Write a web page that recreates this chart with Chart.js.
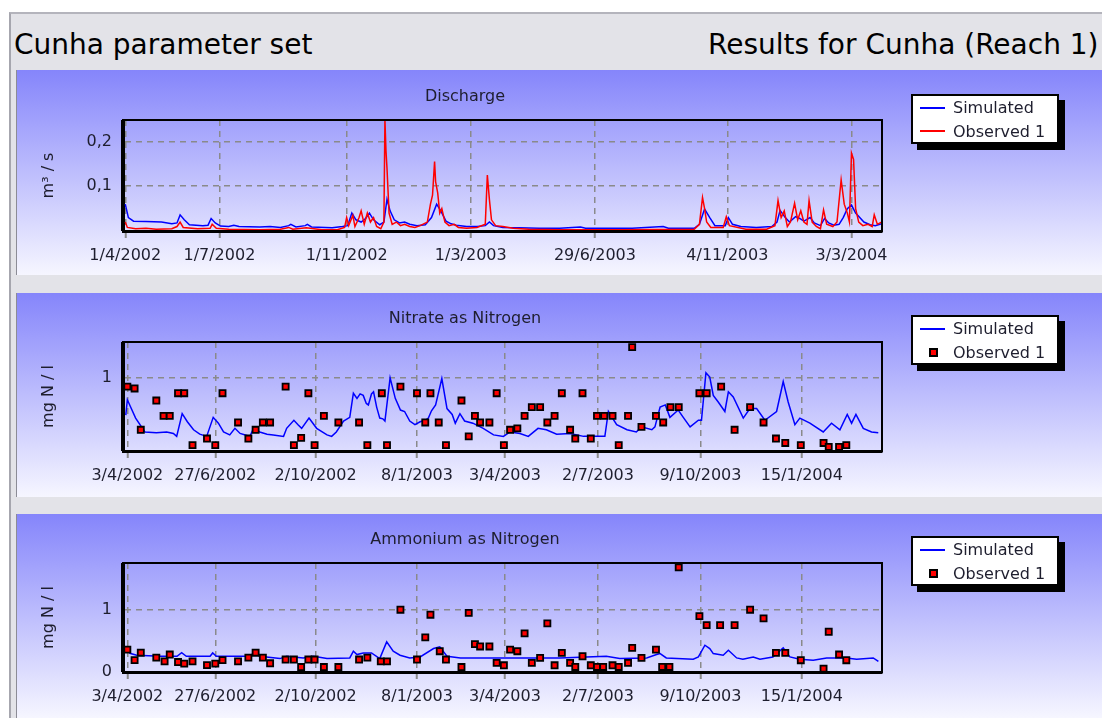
<!DOCTYPE html>
<html>
<head>
<meta charset="utf-8">
<script src="https://cdn.jsdelivr.net/npm/chart.js@4.4.1/dist/chart.umd.min.js"></script>
<style>
body { margin: 0; width: 1102px; height: 718px; overflow: hidden; background: #fff; font-family: "DejaVu Sans", sans-serif; }
#frame { position: absolute; left: 9px; top: 12px; right: 0; bottom: 0; background: #e3e3e8; border-left: 2px solid #a6a6ae; border-top: 2px solid #b4b4bc; }
.head { position: absolute; top: 28px; font-size: 28px; line-height: 34px; color: #000; white-space: nowrap; }
.panel { position: absolute; left: 16px; width: 1086px; background: linear-gradient(#8585fb, #f6f6ff); box-shadow: inset 1px 0 #8c8c96; }
.panel canvas { position: absolute; left: 0; top: 0; }
.ptitle { position: absolute; left: 449px; transform: translateX(-50%); font-size: 16px; line-height: 20px; color: #1e1e2e; white-space: nowrap; }
.legend { position: absolute; left: 895px; width: 148px; height: 50px; box-sizing: border-box; background: #fff; border: 2px solid #000; box-shadow: 6px 6px 0 #000; }
.legend span { position: absolute; }
.legend .txt { left: 40px; font-size: 16px; line-height: 20px; color: #1e1e2e; white-space: nowrap; }
.legend .ln { left: 7px; width: 25px; height: 2px; }
.legend .sq { left: 16px; width: 5px; height: 5px; background: #f00; border: 2px solid #000; }
</style>
</head>
<body>
<div id="frame"></div>
<div class="head" style="left:14px">Cunha parameter set</div>
<div class="head" style="left:708px">Results for Cunha (Reach 1)</div>

<div class="panel" style="top:70px;height:205px">
  <canvas id="c1" width="1086" height="205"></canvas>
  <div class="ptitle" style="top:16px">Discharge</div>
  <div class="legend" style="top:24px">
    <span class="ln" style="top:11px;background:#00f"></span><span class="txt" style="top:2px">Simulated</span>
    <span class="ln" style="top:34px;background:#f00"></span><span class="txt" style="top:26px">Observed 1</span>
  </div>
</div>
<div class="panel" style="top:293px;height:204px">
  <canvas id="c2" width="1086" height="204"></canvas>
  <div class="ptitle" style="top:15px">Nitrate as Nitrogen</div>
  <div class="legend" style="top:22px">
    <span class="ln" style="top:11px;background:#00f"></span><span class="txt" style="top:2px">Simulated</span>
    <span class="sq" style="top:31px"></span><span class="txt" style="top:26px">Observed 1</span>
  </div>
</div>
<div class="panel" style="top:514px;height:204px">
  <canvas id="c3" width="1086" height="204"></canvas>
  <div class="ptitle" style="top:15px">Ammonium as Nitrogen</div>
  <div class="legend" style="top:22px">
    <span class="ln" style="top:11px;background:#00f"></span><span class="txt" style="top:2px">Simulated</span>
    <span class="sq" style="top:31px"></span><span class="txt" style="top:26px">Observed 1</span>
  </div>
</div>

<script>
// x values are days counted from 1/4/2002
const dayMin = -2.2, dayMax = 731.5;

const qTickDays = [0, 91, 214, 334, 454, 582, 702];
const qTickLabels = ['1/4/2002', '1/7/2002', '1/11/2002', '1/3/2003', '29/6/2003', '4/11/2003', '3/3/2004'];
const wqTickDays = [2, 87, 184, 282, 367, 457, 556, 654];
const wqTickLabels = ['3/4/2002', '27/6/2002', '2/10/2002', '8/1/2003', '3/4/2003', '2/7/2003', '9/10/2003', '15/1/2004'];

// discharge m3/s  [day, value]
const qSimulated = [[0,0.06],[3,0.03],[8,0.022],[20,0.021],[35,0.02],[45,0.016],[50,0.018],[53,0.036],[57,0.025],[62,0.014],[75,0.012],[80,0.013],[83,0.028],[87,0.018],[92,0.011],[100,0.01],[105,0.013],[110,0.01],[130,0.009],[140,0.01],[150,0.008],[158,0.012],[160,0.015],[165,0.009],[174,0.012],[176,0.015],[180,0.009],[200,0.007],[210,0.01],[215,0.012],[219,0.04],[223,0.025],[228,0.02],[232,0.027],[236,0.04],[240,0.025],[246,0.014],[250,0.02],[253,0.071],[256,0.045],[260,0.025],[265,0.018],[270,0.02],[275,0.015],[282,0.012],[290,0.014],[296,0.03],[301,0.06],[305,0.045],[310,0.022],[315,0.016],[320,0.013],[330,0.01],[340,0.01],[348,0.012],[352,0.02],[356,0.012],[365,0.008],[380,0.007],[400,0.006],[420,0.006],[440,0.009],[445,0.006],[460,0.006],[490,0.006],[520,0.01],[525,0.006],[550,0.006],[555,0.015],[560,0.049],[565,0.03],[570,0.012],[580,0.012],[583,0.03],[587,0.015],[595,0.01],[610,0.008],[625,0.01],[630,0.02],[633,0.046],[638,0.03],[642,0.02],[648,0.032],[652,0.028],[656,0.022],[662,0.03],[666,0.018],[672,0.012],[676,0.028],[680,0.018],[685,0.013],[690,0.015],[694,0.03],[698,0.05],[702,0.058],[706,0.04],[710,0.03],[714,0.02],[720,0.014],[725,0.012],[731,0.016]];
const qObserved = [[0,0.02],[2,0.008],[10,0.005],[20,0.006],[30,0.004],[45,0.005],[50,0.01],[53,0.02],[56,0.008],[70,0.005],[82,0.006],[84,0.015],[88,0.006],[100,0.004],[130,0.003],[150,0.004],[158,0.008],[162,0.004],[175,0.007],[190,0.003],[205,0.003],[212,0.008],[214,0.03],[216,0.012],[220,0.035],[222,0.01],[226,0.03],[228,0.045],[231,0.015],[234,0.04],[237,0.02],[240,0.03],[243,0.01],[247,0.005],[250,0.02],[251,0.248],[252,0.18],[253,0.14],[255,0.04],[258,0.015],[262,0.02],[266,0.012],[270,0.015],[275,0.01],[280,0.008],[285,0.012],[292,0.02],[295,0.06],[297,0.08],[299,0.155],[300,0.11],[302,0.085],[304,0.04],[306,0.05],[309,0.02],[313,0.012],[318,0.015],[322,0.008],[330,0.006],[340,0.008],[348,0.015],[350,0.125],[352,0.07],[354,0.025],[358,0.012],[365,0.01],[375,0.006],[390,0.004],[420,0.003],[480,0.003],[550,0.004],[555,0.015],[558,0.075],[560,0.05],[562,0.02],[566,0.008],[578,0.008],[581,0.032],[584,0.012],[600,0.004],[620,0.004],[628,0.012],[631,0.068],[634,0.03],[637,0.045],[640,0.01],[643,0.02],[647,0.062],[650,0.025],[653,0.045],[656,0.02],[659,0.015],[661,0.068],[664,0.02],[668,0.01],[672,0.005],[675,0.047],[678,0.015],[684,0.01],[688,0.02],[692,0.114],[695,0.06],[698,0.04],[700,0.02],[702,0.174],[704,0.16],[706,0.05],[709,0.02],[713,0.012],[718,0.015],[722,0.01],[724,0.036],[727,0.015],[731,0.02]];

// nitrate mg N/l
const nSimulated = [[0.5,0.49],[2,0.7],[10,0.45],[19,0.26],[30,0.25],[40,0.26],[46.5,0.24],[49.7,0.2],[55,0.51],[60,0.4],[66,0.29],[72,0.23],[78.7,0.2],[85,0.46],[90,0.38],[95,0.26],[101,0.22],[106,0.31],[111,0.24],[116,0.22],[120.5,0.2],[124,0.31],[130,0.26],[137,0.23],[143,0.22],[153,0.2],[156,0.31],[163,0.42],[167,0.36],[170.5,0.31],[177.6,0.45],[185,0.31],[195,0.22],[199.5,0.2],[204,0.26],[211,0.41],[217,0.46],[220.5,0.79],[224,0.72],[227,0.78],[230,0.76],[233,0.65],[235,0.63],[238,0.78],[240,0.81],[243,0.6],[246,0.45],[249,0.44],[251,0.41],[256,1.0],[261,0.72],[266,0.56],[270,0.54],[275,0.41],[280,0.36],[285,0.4],[290,0.42],[293,0.45],[296,0.55],[300,0.63],[306,0.99],[311,0.58],[316,0.5],[319,0.38],[323.5,0.51],[328,0.41],[336,0.38],[346,0.31],[356,0.22],[365.5,0.2],[372,0.26],[381.5,0.24],[389.6,0.2],[399,0.31],[407,0.29],[417,0.23],[430,0.24],[443,0.2],[463.6,0.2],[467,0.54],[475,0.36],[485,0.29],[494,0.26],[499,0.33],[509,0.29],[512,0.33],[517,0.6],[522,0.63],[526.5,0.46],[534.5,0.56],[539.4,0.46],[546,0.33],[554,0.42],[557,0.42],[561.3,1.07],[565,1.01],[568.4,0.76],[573.2,0.67],[579.6,0.54],[583,0.81],[587.7,0.74],[597.4,0.45],[603.8,0.58],[610.3,0.58],[618.3,0.42],[629.6,0.54],[636,0.95],[640.8,0.67],[647.3,0.36],[652.1,0.45],[661.8,0.38],[674.7,0.26],[682.7,0.38],[690.8,0.29],[697.9,0.5],[702.1,0.38],[706.3,0.5],[713.4,0.31],[721.4,0.26],[727.9,0.25]];
const nObserved = [[2,0.88],[9,0.855],[15,0.29],[30,0.69],[37,0.48],[43,0.48],[51,0.79],[57,0.79],[65,0.08],[79,0.17],[87,0.08],[94,0.79],[109,0.39],[119,0.17],[126,0.29],[133,0.39],[140,0.39],[155,0.88],[163,0.08],[170,0.18],[177,0.79],[183,0.08],[192,0.48],[206,0.39],[226,0.39],[234,0.08],[248,0.79],[253,0.08],[266,0.88],[282,0.79],[290,0.39],[295,0.79],[303,0.39],[310,0.08],[325,0.69],[332,0.2],[338,0.48],[343,0.39],[352,0.39],[359,0.79],[366,0.08],[372,0.29],[379,0.31],[386,0.48],[393,0.6],[401,0.6],[408,0.39],[415,0.48],[422,0.79],[430,0.29],[435,0.17],[442,0.79],[450,0.17],[456,0.48],[463,0.48],[471,0.48],[477,0.08],[486,0.48],[490,1.42],[499,0.33],[513,0.48],[520,0.39],[527,0.6],[535,0.6],[555,0.79],[562,0.79],[576,0.88],[589,0.29],[604,0.6],[617,0.39],[629,0.17],[638,0.11],[653,0.08],[675,0.11],[680,0.055],[690,0.055],[697,0.08]];

// ammonium mg N/l
const aSimulated = [[0.6,0.4],[4.5,0.3],[11,0.27],[34,0.253],[50,0.253],[54.5,0.31],[59,0.253],[82,0.253],[84.5,0.306],[88,0.253],[120.5,0.253],[124,0.306],[130,0.253],[149.5,0.215],[156,0.253],[172,0.226],[182,0.253],[195,0.215],[217,0.226],[220.5,0.334],[224,0.28],[230,0.306],[238,0.306],[246,0.215],[252.7,0.484],[259,0.334],[265.6,0.269],[275,0.226],[285,0.242],[298,0.377],[304,0.403],[311,0.253],[324,0.226],[343,0.226],[356,0.226],[388,0.226],[420,0.226],[465,0.253],[478,0.215],[504,0.226],[513.6,0.28],[517,0.296],[523,0.226],[549,0.205],[554,0.242],[560.3,0.43],[565,0.377],[568.4,0.296],[578,0.269],[583,0.35],[591,0.226],[597,0.205],[607,0.242],[613.5,0.205],[626,0.242],[636,0.388],[642.5,0.242],[652,0.205],[665,0.189],[678,0.226],[697,0.226],[707,0.205],[723,0.226],[728,0.17]];
const aObserved = [[2,0.36],[9,0.19],[15,0.31],[30,0.23],[38,0.17],[43,0.28],[51,0.16],[57,0.135],[65,0.17],[79,0.11],[87,0.135],[94,0.19],[109,0.17],[119,0.23],[126,0.31],[133,0.23],[140,0.14],[155,0.2],[163,0.2],[170,0.08],[177,0.2],[183,0.2],[192,0.08],[206,0.08],[226,0.2],[234,0.23],[247,0.17],[253,0.17],[266,1.0],[282,0.2],[290,0.555],[295,0.92],[304,0.334],[310,0.2],[325,0.08],[332,0.95],[338,0.447],[343,0.41],[352,0.41],[359,0.146],[366,0.108],[372,0.36],[379,0.334],[386,0.62],[393,0.146],[401,0.226],[408,0.78],[415,0.108],[422,0.307],[430,0.146],[435,0.081],[442,0.253],[450,0.108],[456,0.081],[462,0.081],[471,0.108],[477,0.081],[486,0.146],[490,0.388],[499,0.226],[513,0.36],[519,0.081],[526,0.081],[535,1.68],[555,0.898],[562,0.753],[575,0.753],[589,0.753],[604,1.0],[617,0.86],[629,0.307],[638,0.307],[653,0.189],[675,0.054],[680,0.646],[690,0.28],[697,0.189]];

const txtColor = '#1e1e2e';
Chart.defaults.font.family = '"DejaVu Sans", sans-serif';
Chart.defaults.font.size = 16;

const toXY = arr => arr.map(p => ({ x: p[0], y: p[1] }));

// black box round the plot area, left side a bit heavier
const frame = {
  id: 'frame',
  afterDatasetsDraw(chart) {
    const a = chart.chartArea, c = chart.ctx;
    c.save();
    c.strokeStyle = '#000';
    c.lineWidth = 2;
    c.strokeRect(a.left, a.top, a.right - a.left, a.bottom - a.top);
    c.fillStyle = '#000';
    c.fillRect(a.left - 2, a.top, 3, a.bottom - a.top);
    c.restore();
  }
};

function makeChart(id, cfg) {
  const lineSim = {
    label: 'Simulated', data: toXY(cfg.sim), borderColor: '#0000ff', borderWidth: 1.5,
    pointRadius: 0, tension: 0
  };
  let obs;
  if (cfg.obsLine) {
    obs = { label: 'Observed 1', data: toXY(cfg.obs), borderColor: '#ff0000', borderWidth: 1.5, pointRadius: 0, tension: 0 };
  } else {
    obs = { label: 'Observed 1', data: toXY(cfg.obs), showLine: false, pointStyle: 'rect',
      pointRadius: 4.3, backgroundColor: '#ff0000', borderColor: '#000', borderWidth: 1.8 };
  }
  return new Chart(document.getElementById(id), {
    type: 'line',
    data: { datasets: [obs, lineSim] },
    options: {
      responsive: false,
      animation: false,
      events: [],
      layout: { padding: { top: cfg.top, right: 220, left: 0, bottom: 0 } },
      plugins: { legend: { display: false }, tooltip: { enabled: false }, title: { display: false } },
      scales: {
        x: {
          type: 'linear', min: dayMin, max: dayMax,
          afterBuildTicks: s => { s.ticks = cfg.tickDays.map(v => ({ value: v })); },
          afterFit: s => { s.height = cfg.xHeight; },
          ticks: { autoSkip: false, maxRotation: 0, padding: 8, color: txtColor,
            callback: (v, i) => cfg.tickLabels[i] },
          grid: { color: '#8a8a8a', lineWidth: 1.5, tickColor: '#8a8a8a', tickLength: 7, tickWidth: 2 },
          border: { color: '#000', width: 3, dash: [6, 5] }
        },
        y: {
          min: cfg.yMin, max: cfg.yMax,
          afterBuildTicks: s => { s.ticks = cfg.yTicks.map(v => ({ value: v })); },
          afterFit: s => { s.width = 107; },
          ticks: { padding: 11, color: txtColor, callback: v => String(v).replace('.', ',') },
          grid: { color: '#8a8a8a', lineWidth: 1.5, drawTicks: false },
          border: { color: '#000', width: 3, dash: [6, 5] },
          title: { display: true, text: cfg.yTitle, color: txtColor, font: { size: 16 }, padding: { top: 23, bottom: 0 } }
        }
      }
    },
    plugins: [frame]
  });
}

makeChart('c1', { sim: qSimulated, obs: qObserved, obsLine: true, top: 50, xHeight: 44,
  yMin: 0, yMax: 0.248, yTicks: [0.1, 0.2], yTitle: 'm³ / s', tickDays: qTickDays, tickLabels: qTickLabels });
makeChart('c2', { sim: nSimulated, obs: nObserved, obsLine: false, top: 49, xHeight: 46,
  yMin: 0, yMax: 1.49, yTicks: [1], yTitle: 'mg N / l', tickDays: wqTickDays, tickLabels: wqTickLabels });
makeChart('c3', { sim: aSimulated, obs: aObserved, obsLine: false, top: 49, xHeight: 46,
  yMin: 0, yMax: 1.75, yTicks: [0, 1], yTitle: 'mg N / l', tickDays: wqTickDays, tickLabels: wqTickLabels });
</script>
</body>
</html>
